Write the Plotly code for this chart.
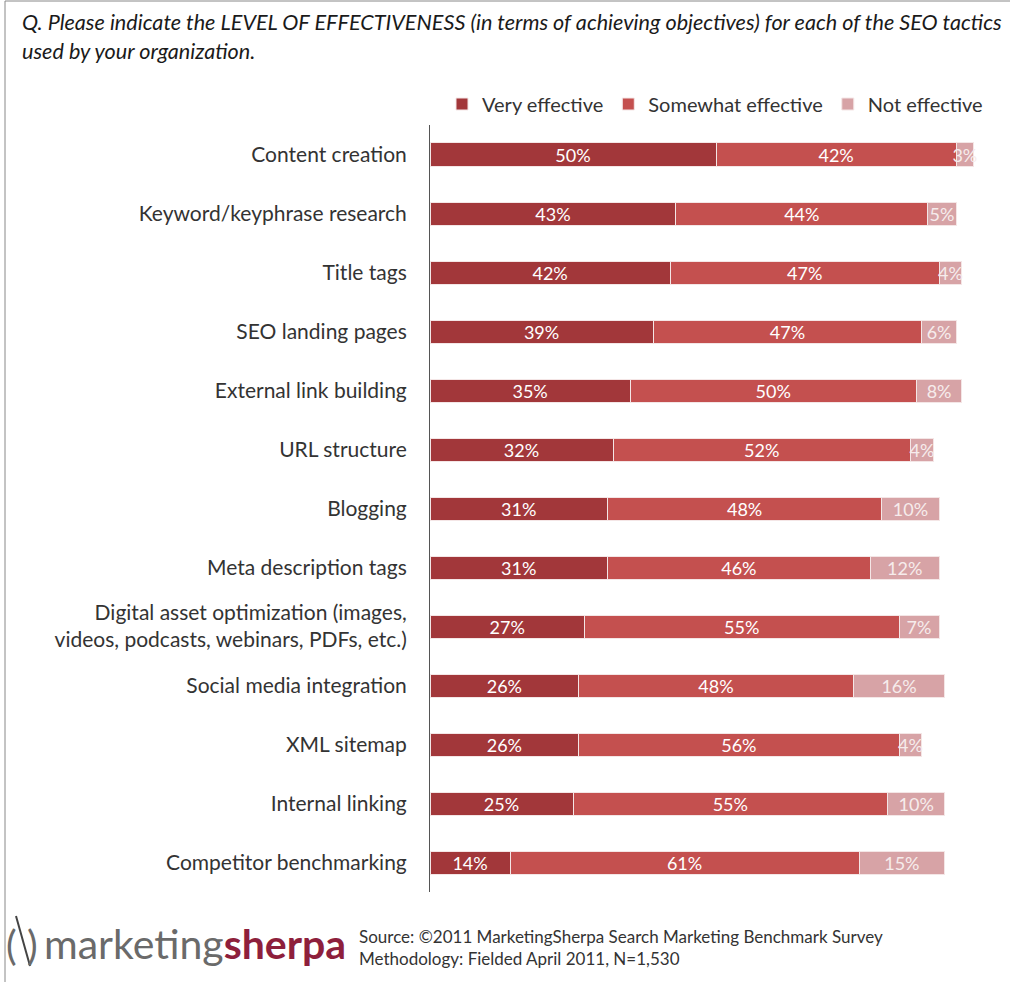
import plotly.graph_objects as go

categories = [
    "Content creation",
    "Keyword/keyphrase research",
    "Title tags",
    "SEO landing pages",
    "External link building",
    "URL structure",
    "Blogging",
    "Meta description tags",
    "Digital asset optimization (images,<br>videos, podcasts, webinars, PDFs, etc.)",
    "Social media integration",
    "XML sitemap",
    "Internal linking",
    "Competitor benchmarking",
]
very_effective = [50, 43, 42, 39, 35, 32, 31, 31, 27, 26, 26, 25, 14]
somewhat_effective = [42, 44, 47, 47, 50, 52, 48, 46, 55, 48, 56, 55, 61]
not_effective = [3, 5, 4, 6, 8, 4, 10, 12, 7, 16, 4, 10, 15]

series = [
    ("Very effective", very_effective, "#A2373A"),
    ("Somewhat effective", somewhat_effective, "#C4504F"),
    ("Not effective", not_effective, "#D7A3A6"),
]

W, H = 1010, 982
ML, MR, MT, MB = 430, 8, 125, 90
PW, PH = W - ML - MR, H - MT - MB


def px(x):
    return (x - ML) / PW


def py(y):
    return 1 - (y - MT) / PH


FONT = "Lato, 'Open Sans', sans-serif"

fig = go.Figure()
for name, vals, color in series:
    fig.add_trace(go.Bar(
        y=categories, x=vals, name=name, orientation="h",
        marker=dict(color=color, line=dict(color="#F4E6E6", width=1)),
        text=[f"{v}%" for v in vals], textposition="inside", textangle=0,
        insidetextanchor="middle", constraintext="none",
        textfont=dict(color="#FFFFFF" if name != "Not effective" else "#F6ECEC", size=18, family=FONT),
    ))

fig.update_layout(
    width=W, height=H,
    barmode="stack", bargap=0.61,
    margin=dict(l=ML, r=MR, t=MT, b=MB),
    paper_bgcolor="white", plot_bgcolor="white",
    font=dict(family=FONT, color="#333333"),
    uniformtext=dict(minsize=18, mode="show"),
    showlegend=True,
    legend=dict(orientation="h", x=px(988), xanchor="right", y=py(104), yanchor="middle",
                font=dict(size=20, color="#333333", family=FONT), traceorder="normal",
                itemwidth=30, bgcolor="rgba(0,0,0,0)"),
    xaxis=dict(range=[0, 100], visible=False, fixedrange=True),
    yaxis=dict(autorange="reversed", showline=True, linecolor="#555555", linewidth=1,
               ticks="outside", ticklen=18, tickcolor="rgba(0,0,0,0)",
               tickfont=dict(size=21, color="#333333", family=FONT), showgrid=False),
)

title1 = "Q. Please indicate the LEVEL OF EFFECTIVENESS (in terms of achieving objectives) for each of the SEO tactics"
title2 = "used by your organization."
for txt, y in [(title1, 22), (title2, 51)]:
    fig.add_annotation(text=f"<i>{txt}</i>", xref="paper", yref="paper", x=px(20), y=py(y),
                       xanchor="left", yanchor="middle", showarrow=False,
                       font=dict(size=21.6, color="#1a1a1a", family=FONT))

# logo
fig.add_annotation(text="marketing<span style='color:#8E1F3C'><b>sherpa</b></span>",
                   xref="paper", yref="paper", x=px(42), y=py(943), xanchor="left", yanchor="middle",
                   showarrow=False, font=dict(size=41, color="#6A6A6A", family=FONT))
fig.add_annotation(text="( )", xref="paper", yref="paper", x=px(4), y=py(945), xanchor="left",
                   yanchor="middle", showarrow=False, font=dict(size=40, color="#6A6A6A", family=FONT))
fig.add_shape(type="line", xref="paper", yref="paper", x0=px(16), y0=py(916), x1=px(30), y1=py(966),
              line=dict(color="#444444", width=2))

for txt, y in [("Source: ©2011 MarketingSherpa Search Marketing Benchmark Survey", 937),
               ("Methodology: Fielded April 2011, N=1,530", 958)]:
    fig.add_annotation(text=txt, xref="paper", yref="paper", x=px(357), y=py(y), xanchor="left",
                       yanchor="middle", showarrow=False, font=dict(size=17, color="#333333", family=FONT))

# frame lines
fig.add_shape(type="line", xref="paper", yref="paper", x0=px(5), y0=py(1), x1=px(1010), y1=py(1),
              line=dict(color="#888888", width=1))
fig.add_shape(type="line", xref="paper", yref="paper", x0=px(5), y0=py(1), x1=px(5), y1=py(982),
              line=dict(color="#888888", width=1))

fig.write_html("out.html")
